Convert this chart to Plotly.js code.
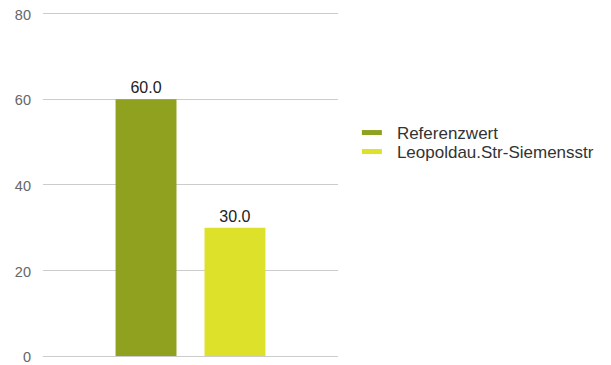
<!DOCTYPE html>
<html><head><meta charset="utf-8">
<script src="https://cdn.plot.ly/plotly-3.0.1.min.js"></script>
<style>html,body{margin:0;padding:0;background:#fff}#c{width:611px;height:365px}</style>
</head><body><div id="c"></div>
<script>
const categories = [""];
const seriesNames = ["Referenzwert", "Leopoldau.Str-Siemensstr"];
const referenzwert = [60.0];
const leopoldau = [30.0];
const colors = ["#8fa11f", "#dee12a"];
const yTicks = [0, 20, 40, 60, 80];

const FONT = "Liberation Sans, Arial, sans-serif";
const values = [referenzwert, leopoldau];
const legendIds = ["legend", "legend2"];
const traces = [];
values.forEach((v, i) => {
  traces.push({
    type: "bar", x: categories, y: v, name: seriesNames[i],
    marker: {color: colors[i]}, showlegend: false,
    texttemplate: "%{y:.1f}", textposition: "outside", cliponaxis: false,
    textfont: {family: FONT, size: 16, color: "#222"},
    hoverinfo: "none"
  });
});
values.forEach((v, i) => {
  traces.push({
    type: "scatter", mode: "lines", x: [null], y: [null], name: seriesNames[i],
    legend: legendIds[i],
    line: {color: colors[i], width: 5, dash: "20px,40px"}, showlegend: true, hoverinfo: "none"
  });
});

const legFont = {family: FONT, size: 17, color: "#333"};
Plotly.newPlot("c", traces, {
  width: 611, height: 365,
  margin: {l: 43, r: 273, t: 12, b: 9},
  paper_bgcolor: "#fff", plot_bgcolor: "#fff",
  barmode: "group", bargap: 0.397, bargroupgap: 0.315,
  showlegend: true,
  legend: {x: 1.064, y: (356 - 133) / 344, xanchor: "left", yanchor: "middle",
    font: legFont, itemwidth: 30, bgcolor: "rgba(0,0,0,0)"},
  legend2: {x: 1.064, y: (356 - 152) / 344, xanchor: "left", yanchor: "middle",
    font: legFont, itemwidth: 30, bgcolor: "rgba(0,0,0,0)"},
  xaxis: {type: "category", showticklabels: false, showgrid: false, zeroline: false, showline: false, ticks: ""},
  yaxis: {range: [0, 80.4], tickvals: yTicks, ticktext: yTicks.map(String),
    showgrid: true, gridcolor: "#cccccc", gridwidth: 1, zeroline: true, zerolinecolor: "#cccccc",
    showline: false, ticks: "", ticklabelstandoff: 11, ticklabelshift: 1, ticklabeloverflow: "allow",
    tickfont: {family: FONT, size: 14.5, color: "#666"}},
  font: {family: FONT}
}, {staticPlot: true});
</script></body></html>
